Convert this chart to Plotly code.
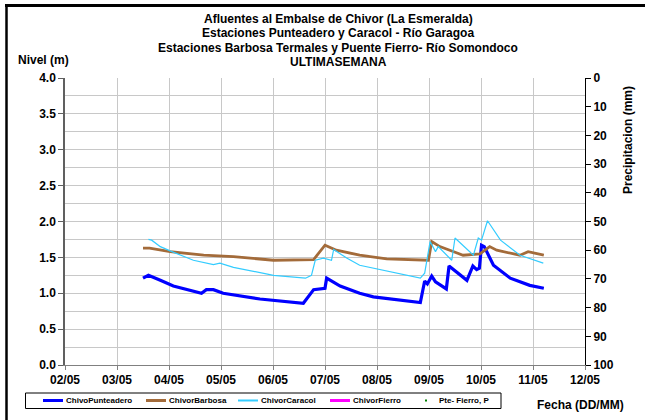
import plotly.graph_objects as go

# ---------------- data ----------------
punteadero_t = ["2011-05-03 12:00", "2011-05-03 14:30", "2011-05-03 20:00", "2011-05-04 02:00",
                "2011-05-04 15:00", "2011-05-04 17:15", "2011-05-04 20:30", "2011-05-05 01:00",
                "2011-05-05 18:00", "2011-05-06 14:00", "2011-05-06 18:45", "2011-05-07 00:00",
                "2011-05-07 00:45", "2011-05-07 07:00", "2011-05-07 16:00", "2011-05-07 22:20",
                "2011-05-08 20:00", "2011-05-08 22:00", "2011-05-08 23:15", "2011-05-09 01:15",
                "2011-05-09 03:00", "2011-05-09 08:00", "2011-05-09 09:15", "2011-05-09 17:30",
                "2011-05-09 20:15", "2011-05-09 22:00", "2011-05-09 23:15", "2011-05-10 00:15",
                "2011-05-10 01:30", "2011-05-10 05:45", "2011-05-10 13:30", "2011-05-10 22:30",
                "2011-05-11 05:00"]
punteadero_v = [1.21, 1.25, 1.18, 1.10, 1.00, 1.05, 1.05, 1.00, 0.92, 0.86, 1.05, 1.07,
                1.21, 1.10, 1.00, 0.95, 0.87, 1.17, 1.13, 1.24, 1.16, 1.06, 1.38, 1.18,
                1.38, 1.33, 1.35, 1.67, 1.65, 1.39, 1.21, 1.11, 1.07]

barbosa_t = ["2011-05-03 12:00", "2011-05-03 15:00", "2011-05-04 00:30", "2011-05-04 16:00",
             "2011-05-05 05:45", "2011-05-05 15:00", "2011-05-06 00:15", "2011-05-06 18:45",
             "2011-05-07 00:00", "2011-05-07 05:15", "2011-05-07 16:00", "2011-05-08 04:30",
             "2011-05-08 23:45", "2011-05-09 01:15", "2011-05-09 05:00", "2011-05-09 15:45",
             "2011-05-09 23:30", "2011-05-10 04:00", "2011-05-10 07:15", "2011-05-10 18:00",
             "2011-05-10 21:45", "2011-05-11 05:00"]
barbosa_v = [1.63, 1.63, 1.58, 1.53, 1.51, 1.49, 1.46, 1.47, 1.67, 1.60, 1.53, 1.48,
             1.46, 1.72, 1.65, 1.53, 1.55, 1.65, 1.60, 1.53, 1.58, 1.53]

caracol_t = ["2011-05-03 14:30", "2011-05-03 16:00", "2011-05-03 20:00", "2011-05-04 00:30",
             "2011-05-04 11:15", "2011-05-04 20:30", "2011-05-04 23:30", "2011-05-05 05:45",
             "2011-05-06 00:15", "2011-05-06 15:00", "2011-05-06 17:45", "2011-05-06 19:30",
             "2011-05-06 23:15", "2011-05-07 03:00", "2011-05-07 04:00", "2011-05-07 10:00",
             "2011-05-07 16:00", "2011-05-07 22:15", "2011-05-08 20:00", "2011-05-08 22:00",
             "2011-05-09 00:30", "2011-05-09 03:00", "2011-05-09 04:15", "2011-05-09 10:30",
             "2011-05-09 12:00", "2011-05-09 20:30", "2011-05-09 22:45", "2011-05-10 00:15",
             "2011-05-10 03:00", "2011-05-10 09:00", "2011-05-10 18:00", "2011-05-11 04:45"]
caracol_v = [1.75, 1.74, 1.65, 1.59, 1.46, 1.40, 1.42, 1.36, 1.25, 1.21, 1.25, 1.46,
             1.49, 1.46, 1.61, 1.49, 1.39, 1.35, 1.21, 1.28, 1.72, 1.58, 1.65, 1.46,
             1.77, 1.53, 1.77, 1.74, 2.01, 1.74, 1.53, 1.42]

fierro_t = [None]
fierro_v = [None]
precip_t = [None]
precip_v = [None]

series_names = ["ChivoPunteadero", "ChivorBarbosa", "ChivorCaracol", "ChivorFierro", "Pte- Fierro, P"]
series_colors = ["#0000FF", "#A36B3A", "#33CCFF", "#FF00FF", "#008000"]

title_lines = ["Afluentes al Embalse de Chivor (La Esmeralda)",
               "Estaciones Punteadero y Caracol - Río Garagoa",
               "Estaciones Barbosa Termales y Puente Fierro- Río Somondoco",
               "ULTIMASEMANA"]

FONT = "Liberation Sans, Arial, sans-serif"

fig = go.Figure()
fig.add_trace(go.Scatter(x=punteadero_t, y=punteadero_v, name=series_names[0], mode="lines",
                         line=dict(color=series_colors[0], width=3.2)))
fig.add_trace(go.Scatter(x=barbosa_t, y=barbosa_v, name=series_names[1], mode="lines",
                         line=dict(color=series_colors[1], width=2.8)))
fig.add_trace(go.Scatter(x=caracol_t, y=caracol_v, name=series_names[2], mode="lines",
                         line=dict(color=series_colors[2], width=1.2)))
fig.add_trace(go.Scatter(x=fierro_t, y=fierro_v, name=series_names[3], mode="lines",
                         line=dict(color=series_colors[3], width=3)))
fig.add_trace(go.Scatter(x=precip_t, y=precip_v, name=series_names[4], mode="markers",
                         marker=dict(color=series_colors[4], size=4, symbol="square"), yaxis="y2"))

# plot area geometry (pixels)
L, R, T, B = 65, 585, 78, 365
W, H = 645, 420
def px(x):
    return (x - L) / (R - L)
def py(y):
    return (B - y) / (B - T)

annotations = []
for i, t in enumerate(title_lines):
    annotations.append(dict(text="<b>%s</b>" % t, x=px(338), y=py(19 + 14.3 * i), xref="paper", yref="paper",
                            xanchor="center", yanchor="middle", showarrow=False,
                            font=dict(family=FONT, size=12, color="black")))
annotations.append(dict(text="<b>Nivel (m)</b>", x=px(16), y=py(60), xref="paper", yref="paper",
                        xanchor="left", yanchor="middle", showarrow=False,
                        font=dict(family=FONT, size=12, color="black")))
annotations.append(dict(text="<b>Precipitacion (mm)</b>", x=px(628), y=py(140), xref="paper", yref="paper",
                        xanchor="center", yanchor="middle", showarrow=False, textangle=-90,
                        font=dict(family=FONT, size=12, color="black")))
annotations.append(dict(text="<b>Fecha (DD/MM)</b>", x=px(626), y=py(405), xref="paper", yref="paper",
                        xanchor="right", yanchor="middle", showarrow=False,
                        font=dict(family=FONT, size=12, color="black")))

shapes = [
    dict(type="line", xref="paper", yref="paper", x0=px(6.5), x1=px(6.5), y0=py(4), y1=py(421),
         line=dict(color="black", width=2.5)),
    dict(type="line", xref="paper", yref="paper", x0=px(5), x1=px(646), y0=py(5.5), y1=py(5.5),
         line=dict(color="black", width=3)),
    # legend box
    dict(type="rect", xref="paper", yref="paper", x0=px(25.5), x1=px(501), y0=py(393), y1=py(408.5),
         line=dict(color="black", width=1), fillcolor="white"),
]

# legend entries (custom, compact like the original)
leg_x = [43, 146, 238, 330, 426]
leg_y = 400.5
for i, name in enumerate(series_names):
    x0 = leg_x[i]
    if i < 4:
        shapes.append(dict(type="line", xref="paper", yref="paper", x0=px(x0), x1=px(x0 + 20),
                           y0=py(leg_y), y1=py(leg_y),
                           line=dict(color=series_colors[i], width=2 if i == 2 else 3)))
        tx = x0 + 21
    else:
        shapes.append(dict(type="rect", xref="paper", yref="paper", x0=px(x0 - 1), x1=px(x0 + 1),
                           y0=py(leg_y - 1), y1=py(leg_y + 1),
                           line=dict(width=0), fillcolor=series_colors[i]))
        tx = x0 + 11
    annotations.append(dict(text="<b>%s</b>" % name, x=px(tx), y=py(leg_y), xref="paper", yref="paper",
                            xanchor="left", yanchor="middle", showarrow=False,
                            font=dict(family=FONT, size=8, color="black")))

fig.update_layout(
    width=W, height=H,
    margin=dict(l=L, r=W - R, t=T, b=H - B, autoexpand=False),
    paper_bgcolor="white", plot_bgcolor="white",
    font=dict(family=FONT, size=12, color="black"),
    showlegend=False,
    annotations=annotations,
    shapes=shapes,
    xaxis=dict(type="date", range=["2011-05-02", "2011-05-12"], dtick=86400000, tick0="2011-05-02",
               tickformat="%d/%m", showgrid=True, gridcolor="#C8C8C8", gridwidth=1,
               showline=True, linecolor="#808080", linewidth=1, ticks="outside", ticklen=4,
               tickcolor="#808080", tickfont=dict(family=FONT, size=12, weight="bold"), zeroline=False),
    yaxis=dict(range=[0, 4], tickvals=[0, 0.5, 1, 1.5, 2, 2.5, 3, 3.5, 4],
               ticktext=["0.0", "0.5", "1.0", "1.5", "2.0", "2.5", "3.0", "3.5", "4.0"],
               showgrid=True, gridcolor="#C8C8C8", gridwidth=1,
               minor=dict(dtick=0.25, showgrid=True, gridcolor="#C8C8C8", gridwidth=1),
               showline=True, linecolor="#606060", linewidth=1.5, ticks="outside", ticklen=5,
               tickcolor="#606060", tickfont=dict(family=FONT, size=12, weight="bold"), zeroline=False),
    yaxis2=dict(overlaying="y", side="right", range=[100, 0], dtick=10, showgrid=False,
                showline=True, linecolor="black", linewidth=1, ticks="outside", ticklen=5,
                tickcolor="black", tickfont=dict(family=FONT, size=12, weight="bold"), zeroline=False),
)

fig.write_html("out.html", config={"displayModeBar": False},
               post_script="document.body.style.margin='0';")
